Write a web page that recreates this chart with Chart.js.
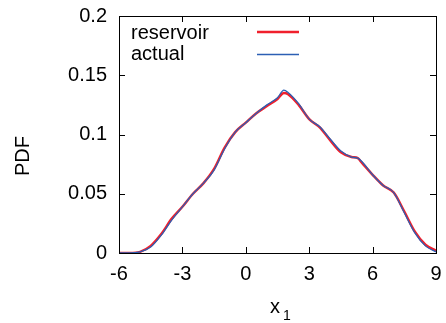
<!DOCTYPE html>
<html>
<head>
<meta charset="utf-8">
<script src="https://cdn.jsdelivr.net/npm/chart.js@4"></script>
<style>
  html, body { margin: 0; padding: 0; background: #fff; }
  #wrap { width: 446px; height: 323px; }
</style>
</head>
<body>
<div id="wrap"><canvas id="pdfChart" width="446" height="323"></canvas></div>
<script>
// values
const xValues   = [-6, -5.5, -5, -4.5, -4, -3.5, -3, -2.5, -2, -1.5, -1, -0.5, 0, 0.5, 1, 1.5, 1.8, 2, 2.5, 3, 3.5, 4, 4.5, 5, 5.3, 5.5, 6, 6.5, 7, 7.5, 8, 8.5, 9];
const reservoir = [0, 0, 0.001, 0.006, 0.016, 0.029, 0.039, 0.050, 0.059, 0.071, 0.089, 0.102, 0.110, 0.118, 0.124, 0.130, 0.135, 0.134, 0.125, 0.113, 0.106, 0.095, 0.085, 0.081, 0.080, 0.076, 0.066, 0.057, 0.051, 0.035, 0.018, 0.007, 0.002];
const actual    = [0, 0, 0.001, 0.005, 0.015, 0.028, 0.039, 0.050, 0.059, 0.070, 0.088, 0.102, 0.110, 0.118, 0.125, 0.131, 0.1375, 0.1355, 0.126, 0.113, 0.1065, 0.096, 0.086, 0.081, 0.080, 0.077, 0.066, 0.057, 0.051, 0.034, 0.017, 0.006, 0.001];
const xTicks = [-6, -3, 0, 3, 6, 9];
const yTicks = [0, 0.05, 0.1, 0.15, 0.2];
const yTickLabels = ['0', '0.05', '0.1', '0.15', '0.2'];

const font = '"Liberation Sans", Arial, sans-serif';
const red = '#f0202c';
const blue = '#2c5fb4';

const toPoints = (ys) => xValues.map((x, i) => ({ x: x, y: ys[i] }));

// let layout.padding alone decide where the plot box sits
const noScalePadding = (s) => {
    s.paddingTop = 0; s.paddingBottom = 0; s.paddingLeft = 0; s.paddingRight = 0;
};

// gnuplot style: frame, inward ticks on all sides, legend text then sample line
const gnuplotBits = {
    id: 'gnuplotBits',
    afterDraw(chart) {
        const ctx = chart.ctx;
        const a = chart.chartArea;
        const xs = chart.scales.x;
        const ys = chart.scales.y;
        ctx.save();
        ctx.strokeStyle = '#000';
        ctx.lineWidth = 1;
        ctx.strokeRect(Math.round(a.left) + 0.5, Math.round(a.top) + 0.5, Math.round(a.right - a.left), Math.round(a.bottom - a.top));
        ctx.beginPath();
        xTicks.forEach(v => {
            const px = Math.round(xs.getPixelForValue(v)) + 0.5;
            ctx.moveTo(px, a.bottom); ctx.lineTo(px, a.bottom - 6);
            ctx.moveTo(px, a.top); ctx.lineTo(px, a.top + 6);
        });
        yTicks.forEach(v => {
            const py = Math.round(ys.getPixelForValue(v)) + 0.5;
            ctx.moveTo(a.left, py); ctx.lineTo(a.left + 6, py);
            ctx.moveTo(a.right, py); ctx.lineTo(a.right - 6, py);
        });
        ctx.stroke();

        // legend
        ctx.fillStyle = '#000';
        ctx.font = '20px ' + font;
        ctx.textBaseline = 'middle';
        ctx.textAlign = 'left';
        ctx.fillText('reservoir', 131, 33);
        ctx.fillText('actual', 131, 54);
        ctx.lineCap = 'butt';
        ctx.strokeStyle = red; ctx.lineWidth = 2.5;
        ctx.beginPath(); ctx.moveTo(257, 32); ctx.lineTo(299, 32); ctx.stroke();
        ctx.strokeStyle = blue; ctx.lineWidth = 1.5;
        ctx.beginPath(); ctx.moveTo(257, 54.5); ctx.lineTo(299, 54.5); ctx.stroke();

        // axis titles
        ctx.font = '20px ' + font;
        ctx.textAlign = 'center';
        ctx.textBaseline = 'alphabetic';
        ctx.fillText('x', 275, 313);
        ctx.font = '14px ' + font;
        ctx.fillText('1', 287, 320);
        ctx.save();
        ctx.translate(29, 156);
        ctx.rotate(-Math.PI / 2);
        ctx.font = '20px ' + font;
        ctx.textBaseline = 'alphabetic';
        ctx.fillText('PDF', 0, 0);
        ctx.restore();
        ctx.restore();
    }
};

new Chart(document.getElementById('pdfChart'), {
    type: 'line',
    data: {
        datasets: [
            {
                label: 'reservoir',
                data: toPoints(reservoir),
                borderColor: red,
                backgroundColor: 'transparent',
                borderWidth: 2.5,
                order: 2
            },
            {
                label: 'actual',
                data: toPoints(actual),
                borderColor: blue,
                backgroundColor: 'transparent',
                borderWidth: 1.3,
                order: 1
            }
        ]
    },
    options: {
        responsive: false,
        animation: false,
        devicePixelRatio: 1,
        layout: { padding: { top: 16, right: 10, left: 0, bottom: 0 } },
        elements: {
            point: { radius: 0 },
            line: { cubicInterpolationMode: 'monotone' }
        },
        plugins: {
            legend: { display: false },
            tooltip: { enabled: false }
        },
        scales: {
            x: {
                type: 'linear',
                min: -6,
                max: 9,
                afterBuildTicks: (s) => { s.ticks = xTicks.map(v => ({ value: v })); },
                afterFit: (s) => { s.height = 70; noScalePadding(s); },
                grid: { display: false, drawTicks: false },
                border: { display: false },
                ticks: {
                    padding: 9,
                    color: '#000',
                    font: { family: font, size: 20 },
                    callback: (v) => String(v)
                }
            },
            y: {
                min: 0,
                max: 0.2,
                afterBuildTicks: (s) => { s.ticks = yTicks.map(v => ({ value: v })); },
                afterFit: (s) => { s.width = 119; noScalePadding(s); },
                grid: { display: false, drawTicks: false },
                border: { display: false },
                ticks: {
                    padding: 12,
                    color: '#000',
                    font: { family: font, size: 20 },
                    callback: (v) => yTickLabels[yTicks.indexOf(v)]
                }
            }
        }
    },
    plugins: [gnuplotBits]
});
</script>
</body>
</html>
